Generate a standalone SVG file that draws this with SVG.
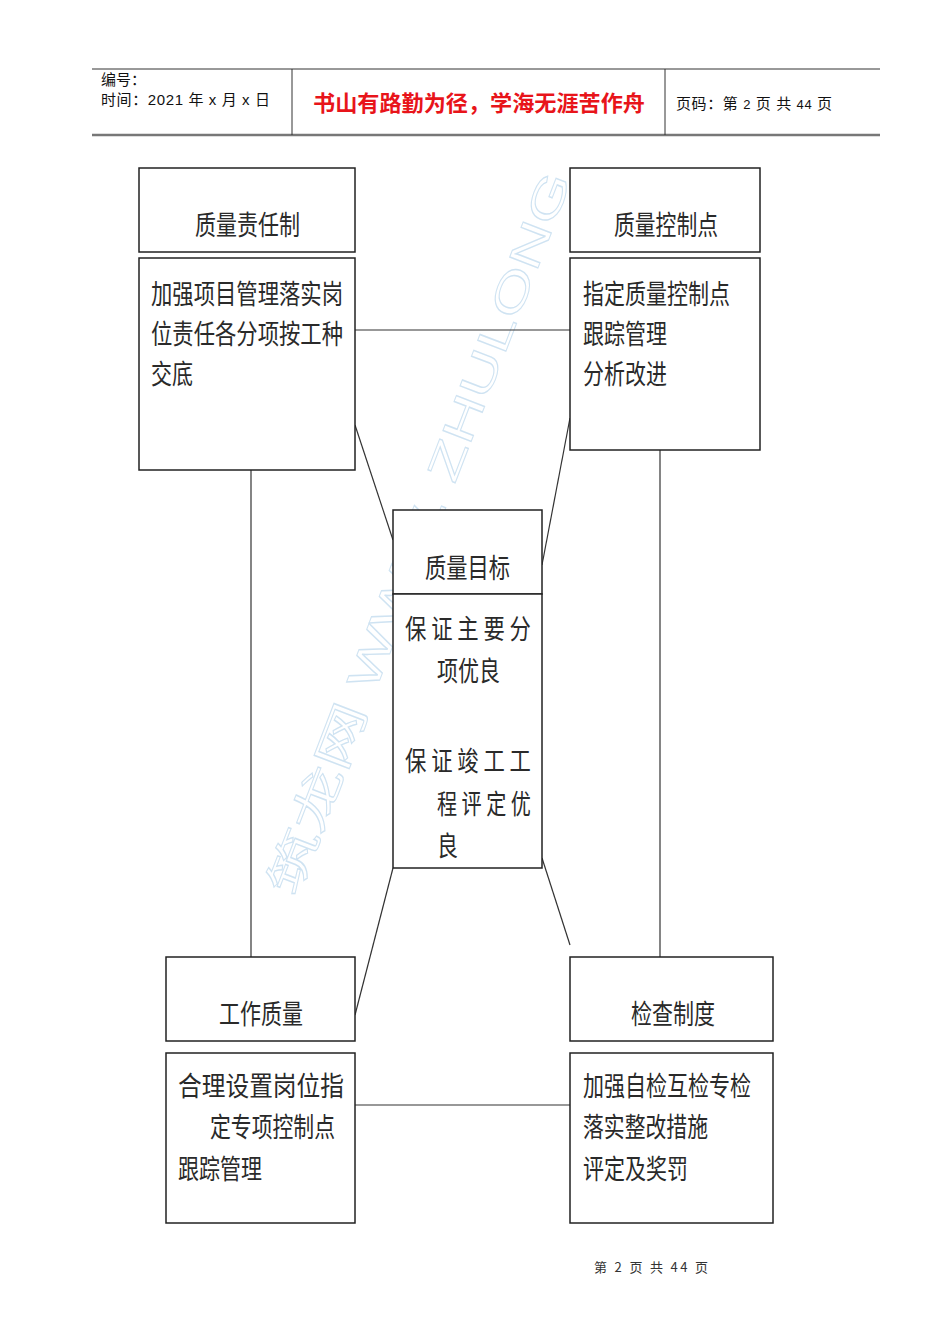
<svg xmlns="http://www.w3.org/2000/svg" width="950" height="1344" viewBox="0 0 950 1344">
<style>
.box{fill:#fff;stroke:#222;stroke-width:1.5}
.conn{stroke:#333;stroke-width:1.2;fill:none}
.t{font-family:"Noto Sans CJK SC","Liberation Sans",sans-serif;font-size:27px;fill:#2a2a2a}
.h{font-family:"Liberation Sans","Noto Sans CJK SC",sans-serif;font-size:15px;fill:#111}
.wm{font-family:"Liberation Sans","Noto Sans CJK SC",sans-serif;font-size:44px;fill:none;stroke:#cfe3f2;stroke-width:1}
</style>
<rect width="950" height="1344" fill="#fff"/>
<g id="header">
<line x1="92" y1="69" x2="880" y2="69" stroke="#333" stroke-width="1"/>
<line x1="92" y1="135" x2="880" y2="135" stroke="#777" stroke-width="2.5"/>
<line x1="292" y1="69" x2="292" y2="135" stroke="#333" stroke-width="1"/>
<line x1="665" y1="69" x2="665" y2="135" stroke="#333" stroke-width="1"/>
<text class="h" x="101" y="85">编号：</text>
<text class="h" x="101" y="105" textLength="169" lengthAdjust="spacing">时间：2021 年 x 月 x 日</text>
<text x="479" y="111" text-anchor="middle" font-family="Noto Sans CJK SC,sans-serif" font-size="22" font-weight="bold" fill="#e8141a" textLength="332" lengthAdjust="spacingAndGlyphs">书山有路勤为径，学海无涯苦作舟</text>
<text class="h" x="676" y="109" textLength="156" lengthAdjust="spacing">页码：第 <tspan font-size="13">2</tspan> 页  共 <tspan font-size="13">44</tspan> 页</text>
</g>
<g id="watermark">
<text class="wm" transform="translate(296,898) rotate(-69)" textLength="770" lengthAdjust="spacingAndGlyphs">筑龙网 WWW. ZHULONG</text>
</g>
<g id="connectors">
<line class="conn" x1="355" y1="330" x2="570" y2="330"/>
<line class="conn" x1="251" y1="470" x2="251" y2="957"/>
<line class="conn" x1="660" y1="450" x2="660" y2="957"/>
<line class="conn" x1="355" y1="425" x2="393" y2="540"/>
<line class="conn" x1="570" y1="418" x2="542" y2="565"/>
<line class="conn" x1="393" y1="868" x2="355" y2="1015"/>
<line class="conn" x1="542" y1="858" x2="570" y2="945"/>
<line class="conn" x1="355" y1="1105" x2="570" y2="1105"/>
</g>
<g id="node-zlzrz">
<rect class="box" x="139" y="168" width="216" height="84"/>
<text class="t" x="195" y="235" textLength="105" lengthAdjust="spacingAndGlyphs">质量责任制</text>
<rect class="box" x="139" y="258" width="216" height="212"/>
<text class="t" x="151" y="304" textLength="192" lengthAdjust="spacingAndGlyphs">加强项目管理落实岗</text>
<text class="t" x="151" y="344" textLength="192" lengthAdjust="spacingAndGlyphs">位责任各分项按工种</text>
<text class="t" x="151" y="384" textLength="42" lengthAdjust="spacingAndGlyphs">交底</text>
</g>
<g id="node-zlkzd">
<rect class="box" x="570" y="168" width="190" height="84"/>
<text class="t" x="614" y="235" textLength="104" lengthAdjust="spacingAndGlyphs">质量控制点</text>
<rect class="box" x="570" y="258" width="190" height="192"/>
<text class="t" x="583" y="304" textLength="147" lengthAdjust="spacingAndGlyphs">指定质量控制点</text>
<text class="t" x="583" y="344" textLength="84" lengthAdjust="spacingAndGlyphs">跟踪管理</text>
<text class="t" x="583" y="384" textLength="84" lengthAdjust="spacingAndGlyphs">分析改进</text>
</g>
<g id="node-zlmb">
<rect class="box" x="393" y="510" width="149" height="84"/>
<text class="t" x="425" y="578" textLength="85" lengthAdjust="spacingAndGlyphs">质量目标</text>
<rect class="box" x="393" y="594" width="149" height="274"/>
<text class="t" x="405" y="639" textLength="126" lengthAdjust="spacingAndGlyphs">保 证 主 要 分</text>
<text class="t" x="437" y="681" textLength="63" lengthAdjust="spacingAndGlyphs">项优良</text>
<text class="t" x="405" y="771" textLength="126" lengthAdjust="spacingAndGlyphs">保 证 竣 工 工</text>
<text class="t" x="437" y="814" textLength="94" lengthAdjust="spacingAndGlyphs">程 评 定 优</text>
<text class="t" x="437" y="856" textLength="21" lengthAdjust="spacingAndGlyphs">良</text>
</g>
<g id="node-gzzl">
<rect class="box" x="166" y="957" width="189" height="84"/>
<text class="t" x="219" y="1024" textLength="84" lengthAdjust="spacingAndGlyphs">工作质量</text>
<rect class="box" x="166" y="1053" width="189" height="170"/>
<text class="t" x="178" y="1096" textLength="166" lengthAdjust="spacingAndGlyphs">合理设置岗位指</text>
<text class="t" x="210" y="1137" textLength="125" lengthAdjust="spacingAndGlyphs">定专项控制点</text>
<text class="t" x="178" y="1179" textLength="84" lengthAdjust="spacingAndGlyphs">跟踪管理</text>
</g>
<g id="node-jczd">
<rect class="box" x="570" y="957" width="203" height="84"/>
<text class="t" x="631" y="1024" textLength="84" lengthAdjust="spacingAndGlyphs">检查制度</text>
<rect class="box" x="570" y="1053" width="203" height="170"/>
<text class="t" x="583" y="1096" textLength="168" lengthAdjust="spacingAndGlyphs">加强自检互检专检</text>
<text class="t" x="583" y="1137" textLength="125" lengthAdjust="spacingAndGlyphs">落实整改措施</text>
<text class="t" x="583" y="1179" textLength="105" lengthAdjust="spacingAndGlyphs">评定及奖罚</text>
</g>
<g id="footer">
<text x="594" y="1272" font-family="Noto Sans CJK SC,Liberation Sans,sans-serif" font-size="13" fill="#333" textLength="114" lengthAdjust="spacing">第 2 页 共 44 页</text>
</g>
</svg>
